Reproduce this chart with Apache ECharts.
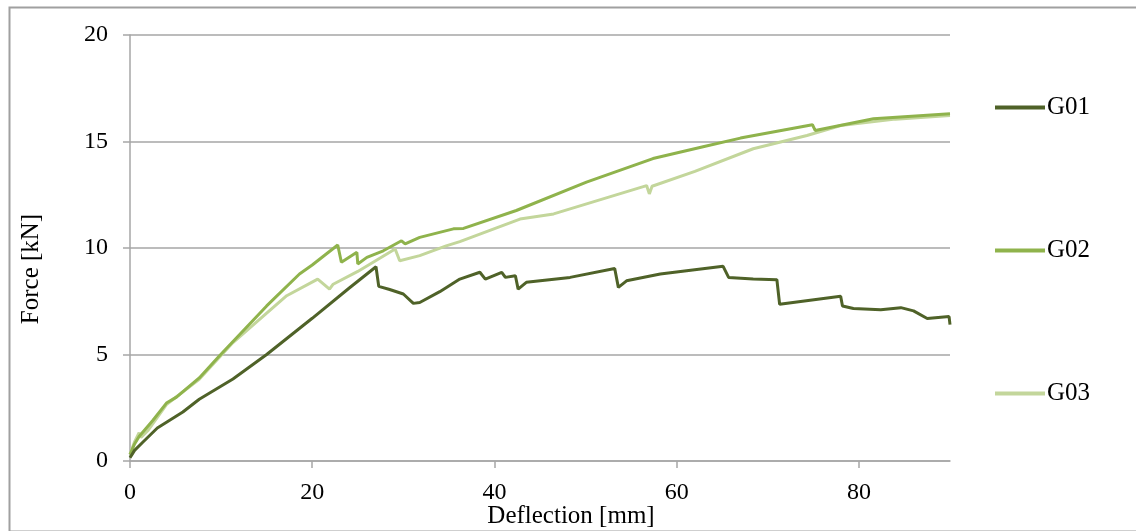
<!DOCTYPE html>
<html>
<head>
<meta charset="utf-8">
<script src="https://cdn.jsdelivr.net/npm/echarts@6/dist/echarts.min.js"></script>
<style>
html,body{margin:0;padding:0;background:#fff;}
#chart{width:1136px;height:531px;}
</style>
</head>
<body>
<div id="chart"></div>
<script>
const seriesNames = ['G01', 'G02', 'G03'];
const xTicks = [0, 20, 40, 60, 80];
const yTicks = [0, 5, 10, 15, 20];

const g01 = [[0,0.15],[0.5,0.5],[1.4,0.88],[3,1.55],[5.8,2.3],[7.6,2.9],[11.3,3.85],[15,5.0],[20,6.7],[24,8.1],[27,9.12],
  [27.3,8.2],[28.5,8.05],[30,7.84],[31.1,7.4],[31.8,7.44],[34,7.95],[36.2,8.54],[38.4,8.86],[39,8.54],[40.8,8.86],
  [41.2,8.62],[42.3,8.7],[42.6,8.07],[43.5,8.39],[48.3,8.62],[53.2,9.04],[53.6,8.15],[54.5,8.46],[58.2,8.78],
  [65.1,9.14],[65.7,8.62],[68.4,8.54],[71.0,8.51],[71.3,7.36],[78.0,7.73],[78.2,7.28],[79.4,7.16],[82.4,7.1],
  [84.6,7.2],[86,7.05],[87.5,6.69],[89.9,6.78],[90,6.4]];
const g02 = [[0,0.3],[0.5,0.8],[1,1.15],[2.5,1.9],[4,2.72],[5.1,3.0],[7.6,3.9],[9.8,4.93],[15,7.28],[18.6,8.78],
  [20,9.2],[22.8,10.14],[23.2,9.33],[24.9,9.8],[25.0,9.25],[26,9.56],[27.8,9.87],[29.8,10.34],[30.2,10.19],
  [31.8,10.5],[35.5,10.9],[36.6,10.92],[42.4,11.76],[50.1,13.09],[57.4,14.2],[62.9,14.75],[67,15.16],
  [74.9,15.79],[75.2,15.52],[81.6,16.07],[90,16.3]];
const g03 = [[0,0.3],[0.5,0.9],[1,1.33],[1.2,1.1],[2,1.45],[4,2.65],[7.6,3.84],[11.3,5.56],[17.2,7.76],[20.6,8.54],
  [21.9,8.07],[22.3,8.3],[25,8.9],[29.1,9.95],[29.6,9.4],[31.8,9.64],[34.7,10.1],[36.2,10.3],[42.8,11.36],
  [46.5,11.6],[56.7,12.93],[57,12.54],[57.3,12.9],[62,13.6],[68.4,14.66],[74.3,15.28],[78,15.75],[84,16.05],[90,16.22]];

const colors = ['#4f6228', '#8fb34c', '#c3d69b'];
const font = '"Liberation Serif", "Times New Roman", serif';
const gray = '#a6a6a6';

const chart = echarts.init(document.getElementById('chart'));
chart.setOption({
  animation: false,
  backgroundColor: '#fff',
  graphic: [{
    type: 'rect', left: 7, top: 5,
    shape: { width: 1140, height: 524 },
    style: { fill: 'none', stroke: '#a0a0a0', lineWidth: 2 }
  }],
  grid: { left: 130, right: 186, top: 35, bottom: 70, outerBoundsMode: 'none', containLabel: false },
  legend: {
    data: seriesNames,
    orient: 'vertical',
    left: 990, top: 90,
    itemGap: 118,
    itemWidth: 50, itemHeight: 4,
    icon: 'rect',
    textStyle: { fontFamily: font, fontSize: 25, color: '#000', lineHeight: 25, padding: [0, 0, 0, -3] }
  },
  xAxis: {
    type: 'value', min: 0, max: 90, interval: 20,
    name: 'Deflection [mm]', nameLocation: 'middle', nameGap: 43, nameMoveOverlap: false,
    nameTextStyle: { fontFamily: font, fontSize: 25, color: '#000', padding: [0, 0, 0, 62] },
    axisLine: { show: true, lineStyle: { color: gray, width: 1.5 } },
    axisTick: { show: true, length: 7, lineStyle: { color: gray, width: 1.5 }, customValues: xTicks },
    axisLabel: { fontFamily: font, fontSize: 24, color: '#000', margin: 20, customValues: xTicks },
    splitLine: { show: false }
  },
  yAxis: {
    type: 'value', min: 0, max: 20, interval: 5,
    name: 'Force [kN]', nameLocation: 'middle', nameGap: 86, nameRotate: 90, nameMoveOverlap: false,
    nameTextStyle: { fontFamily: font, fontSize: 25, color: '#000', padding: [0, 42, 0, 0] },
    axisLine: { show: true, lineStyle: { color: gray, width: 1.5 } },
    axisTick: { show: true, length: 7, lineStyle: { color: gray, width: 1.5 } },
    axisLabel: { fontFamily: font, fontSize: 24, color: '#000', margin: 22 },
    splitLine: { show: true, lineStyle: { color: gray, width: 1.5 } }
  },
  series: [g01, g02, g03].map((d, i) => ({
    name: seriesNames[i],
    type: 'line',
    data: d,
    symbol: 'none',
    itemStyle: { color: colors[i] },
    lineStyle: { color: colors[i], width: 3 },
    z: 3 - i
  }))
});
</script>
</body>
</html>
